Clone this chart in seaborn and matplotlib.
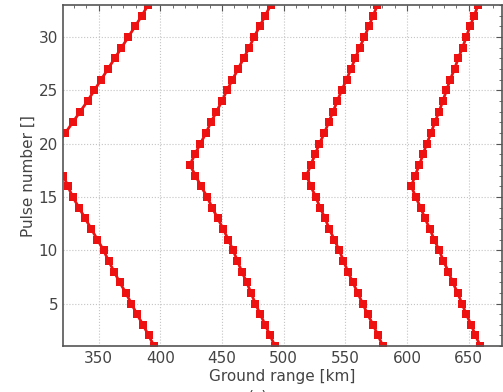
import numpy as np
import pandas as pd
import matplotlib
matplotlib.use("Agg")
import matplotlib.pyplot as plt
import seaborn as sns
from matplotlib.ticker import MultipleLocator

# ---- data ----
pulses_a_low = list(range(1, 18))
range_a_low = [395, 390.5, 386, 381, 376.5, 372, 367, 362.5, 358, 354, 349, 344, 339, 334, 329, 325, 321.5]

pulses_a_up = list(range(20, 34))
range_a_up = [317, 323, 329, 335, 341, 346.5, 352, 357.5, 363, 368.5, 374, 379.5, 385, 390]

pulses_b = list(range(1, 34))
range_b = [493, 489, 485, 481, 477, 473.5, 470, 466, 462.5, 459, 455, 451, 446.5, 442, 438, 433, 428.5, 424,
           428, 432.5, 437, 441, 445.5, 450, 454, 458.5, 463, 467.5, 472, 476, 480.5, 485, 489.5]

pulses_c = list(range(1, 34))
range_c = [580.5, 576.5, 572.5, 568, 564, 560, 556, 552, 548.5, 545, 541, 537, 533.5, 529.5, 526, 522, 518.5,
           522, 525.5, 529, 533, 536.5, 540, 543.5, 547, 551, 554.5, 558, 561.5, 565.5, 569, 572.5, 576]

pulses_d = list(range(1, 34))
range_d = [659.5, 655.5, 652, 648, 644.5, 641, 637, 633.5, 629.5, 626, 622, 618.5, 614.5, 611, 607, 603.5,
           606.5, 610, 613, 616, 619.5, 622.5, 626, 629, 632, 635, 638.5, 641.5, 645, 648, 651, 654.5, 657.5]

segments = [
    ("a_low", pulses_a_low, range_a_low),
    ("a_up", pulses_a_up, range_a_up),
    ("b", pulses_b, range_b),
    ("c", pulses_c, range_c),
    ("d", pulses_d, range_d),
]

frames = [pd.DataFrame({"seg": name, "pulse": p, "range": r}) for name, p, r in segments]
df = pd.concat(frames, ignore_index=True)

sns.set_style("white")
plt.rcParams['font.family'] = ['DejaVu Sans']

fig = plt.figure(figsize=(5.03, 3.92), dpi=100)
ax = fig.add_axes([0.125, 0.117, 0.873, 0.870])

for name, sub in df.groupby("seg", sort=False):
    sns.lineplot(data=sub, x="range", y="pulse", sort=False, estimator=None,
                 color="#ee1111", marker="s", markersize=5.5, markeredgewidth=0,
                 linewidth=2, ax=ax, legend=False)

ax.set_xlim(321, 677)
ax.set_ylim(1, 33)
ax.set_xticks([350, 400, 450, 500, 550, 600, 650])
ax.set_yticks([5, 10, 15, 20, 25, 30])
ax.xaxis.set_minor_locator(MultipleLocator(10))
ax.yaxis.set_minor_locator(MultipleLocator(1))
ax.tick_params(which="both", direction="in", top=True, right=True, colors="#555555",
               labelcolor="#444444", labelsize=11)
ax.tick_params(which="major", length=4)
ax.tick_params(which="minor", length=2)
ax.grid(True, which="major", linestyle=":", color="#c4c4c4", linewidth=0.8)
for s in ax.spines.values():
    s.set_color("#555555")
    s.set_linewidth(1.2)

ax.set_xlabel("Ground range [km]", fontsize=11, color="#444444", labelpad=2)
ax.set_ylabel("Pulse number []", fontsize=11, color="#444444", labelpad=2)

# figure caption, cut by the bottom edge as in the reference
fig.text(0.513, -0.012, "(c)", ha="center", va="center", fontsize=11, color="#444444")

fig.savefig("out.png", dpi=100)
